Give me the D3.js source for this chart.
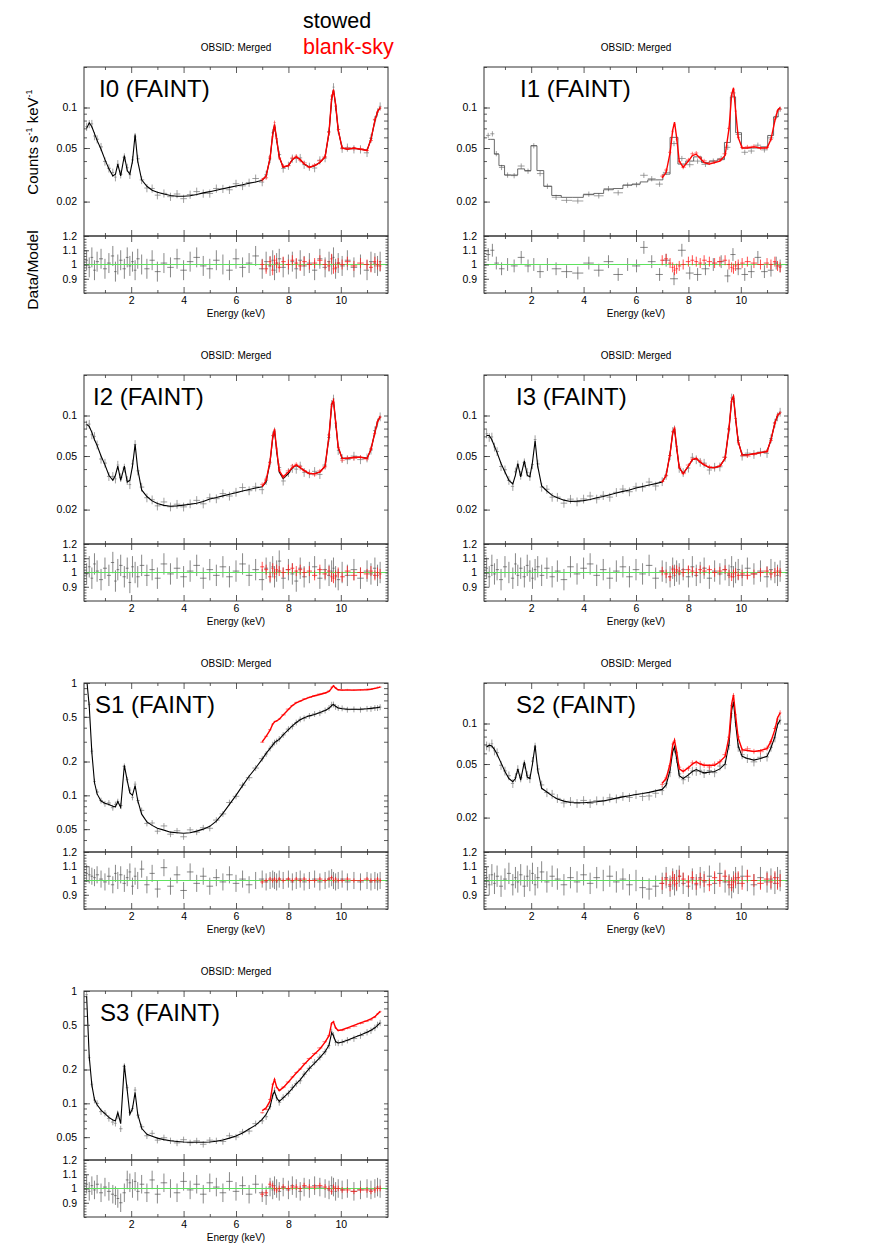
<!DOCTYPE html>
<html>
<head>
<meta charset="utf-8">
<script src="https://cdn.jsdelivr.net/npm/d3@7"></script>
<style>
  body { margin: 0; background: #fff; }
  text { font-family: "Liberation Sans", Arial, Helvetica, sans-serif; }
</style>
</head>
<body>
<svg width="872" height="1258"></svg>
<script>
// energy grid (keV) shared by the finely binned spectra
const energies = [
  0.30, 0.40, 0.50, 0.60, 0.70, 0.85, 1.00, 1.15, 1.30, 1.40,
  1.49, 1.60, 1.74, 1.85, 1.95, 2.05, 2.15, 2.25, 2.40, 2.60,
  2.80, 3.00, 3.25, 3.50, 3.75, 4.00, 4.25, 4.50, 4.75, 5.00,
  5.25, 5.50, 5.75, 6.00, 6.25, 6.50, 6.75, 7.00, 7.15, 7.30,
  7.40, 7.47, 7.55, 7.65, 7.80, 8.00, 8.15, 8.30, 8.45, 8.60,
  8.80, 9.00, 9.20, 9.40, 9.55, 9.65, 9.72, 9.80, 9.90, 10.05,
  10.25, 10.50, 10.75, 11.00, 11.15, 11.30, 11.40, 11.50
];
// blank-sky spectra only cover 7-11.5 keV
const redEnergies = [
  7.00, 7.15, 7.30, 7.40, 7.47, 7.55, 7.65, 7.80, 8.00, 8.15,
  8.30, 8.45, 8.60, 8.80, 9.00, 9.20, 9.40, 9.55, 9.65, 9.72,
  9.80, 9.90, 10.05, 10.25, 10.50, 10.75, 11.00, 11.15, 11.30, 11.40,
  11.50
];

// I0
const i0Model = [
  0.070, 0.077, 0.072, 0.064, 0.057, 0.049, 0.041, 0.035, 0.031, 0.032,
  0.038, 0.031, 0.044, 0.034, 0.032, 0.040, 0.063, 0.040, 0.029, 0.026,
  0.0243, 0.0235, 0.0228, 0.0222, 0.0219, 0.0219, 0.0221, 0.0226, 0.0232, 0.0237,
  0.0243, 0.0249, 0.0255, 0.0261, 0.0267, 0.0274, 0.0280, 0.0288, 0.031, 0.042,
  0.063, 0.074, 0.058, 0.043, 0.036, 0.037, 0.041, 0.043, 0.041, 0.038,
  0.036, 0.037, 0.039, 0.043, 0.065, 0.115, 0.135, 0.105, 0.068, 0.050,
  0.049, 0.050, 0.049, 0.048, 0.058, 0.080, 0.093, 0.100
];
const i0Ratio = [
  1.03, 0.98, 1.05, 0.96, 1.02, 1.04, 0.97, 1.01, 1.06, 0.95,
  1.00, 1.03, 0.97, 1.05, 0.99, 1.02, 0.96, 1.04, 1.00, 0.97,
  1.03, 0.95, 1.01, 0.98, 1.04, 0.96, 1.02, 1.05, 0.99, 0.97,
  1.03, 1.00, 0.96, 1.04, 0.98, 1.01, 1.06, 0.97, 1.02, 0.99,
  1.03, 0.96, 1.01, 1.04, 0.98, 1.00, 1.02, 0.97, 1.03, 0.99,
  1.01, 0.96, 1.04, 0.98, 1.02, 1.00, 1.05, 0.97, 1.01, 0.99,
  1.03, 0.98, 1.00, 0.96, 1.02, 1.01, 0.99, 1.02
];
const i0RedModel = [
  0.029, 0.031, 0.042, 0.063, 0.075, 0.058, 0.043, 0.036, 0.037, 0.041,
  0.043, 0.041, 0.038, 0.036, 0.037, 0.039, 0.043, 0.066, 0.117, 0.136,
  0.106, 0.068, 0.050, 0.049, 0.050, 0.049, 0.048, 0.058, 0.080, 0.093,
  0.100
];
const i0RedRatio = [
  1.00, 0.97, 1.02, 0.96, 1.03, 1.01, 0.98, 1.02, 1.00, 1.03,
  1.01, 0.99, 1.02, 1.00, 1.01, 1.03, 1.00, 0.99, 1.04, 0.97,
  0.98, 1.01, 1.00, 1.02, 0.99, 1.01, 1.00, 0.98, 1.02, 1.00,
  0.99
];

// I1 (stowed data coarsely binned)
const i1Energies = [
  0.36, 0.52, 0.67, 0.87, 1.10, 1.35, 1.62, 1.88, 2.10, 2.34,
  2.62, 2.95, 3.35, 3.78, 4.20, 4.58, 4.95, 5.32, 5.68, 6.02,
  6.30, 6.60, 6.90, 7.15, 7.45, 7.75, 8.05, 8.35, 8.65, 8.95,
  9.25, 9.50, 9.70, 9.90, 10.15, 10.40, 10.65, 10.90, 11.15, 11.35,
  11.50
];
const i1Model = [
  0.058, 0.058, 0.045, 0.037, 0.0315, 0.0315, 0.035, 0.034, 0.052, 0.034,
  0.026, 0.0222, 0.0215, 0.0215, 0.0225, 0.023, 0.0245, 0.025, 0.0265, 0.027,
  0.028, 0.029, 0.029, 0.032, 0.060, 0.038, 0.040, 0.043, 0.039, 0.040,
  0.041, 0.055, 0.120, 0.065, 0.050, 0.050, 0.050, 0.051, 0.062, 0.085,
  0.098
];
const i1Ratio = [
  1.07, 1.10, 1.01, 0.97, 1.00, 0.99, 1.05, 0.99, 1.00, 0.95,
  1.00, 0.97, 0.95, 0.94, 1.01, 0.96, 1.02, 0.93, 1.00, 0.99,
  1.12, 1.02, 0.93, 1.03, 0.90, 1.10, 0.94, 0.93, 0.97, 1.00,
  1.02, 0.92, 1.07, 0.97, 0.93, 0.95, 1.05, 0.95, 0.96, 1.01,
  0.99
];
const i1RedModel = [
  0.030, 0.033, 0.046, 0.068, 0.078, 0.060, 0.040, 0.036, 0.040, 0.044,
  0.045, 0.042, 0.039, 0.038, 0.039, 0.040, 0.044, 0.070, 0.125, 0.140,
  0.095, 0.060, 0.050, 0.050, 0.051, 0.050, 0.050, 0.058, 0.080, 0.095,
  0.100
];
const i1RedRatio = [
  1.03, 1.04, 1.01, 0.98, 0.96, 0.97, 0.99, 1.00, 1.02, 1.03,
  1.02, 1.01, 1.03, 1.02, 1.01, 1.02, 1.03, 1.00, 0.98, 0.97,
  0.99, 1.00, 1.01, 1.02, 1.01, 1.00, 1.01, 1.00, 1.02, 0.99,
  0.98
];

// I2
const i2Model = [
  0.086, 0.083, 0.075, 0.066, 0.060, 0.050, 0.043, 0.036, 0.033, 0.036,
  0.042, 0.033, 0.042, 0.032, 0.033, 0.042, 0.061, 0.040, 0.028, 0.025,
  0.0232, 0.0222, 0.0215, 0.0212, 0.0213, 0.0216, 0.0219, 0.0223, 0.0230, 0.0240,
  0.0246, 0.0253, 0.0260, 0.0267, 0.0275, 0.0282, 0.0289, 0.0296, 0.032, 0.045,
  0.068, 0.078, 0.055, 0.038, 0.034, 0.037, 0.041, 0.0425, 0.041, 0.039,
  0.037, 0.037, 0.038, 0.042, 0.070, 0.120, 0.129, 0.090, 0.058, 0.048,
  0.048, 0.049, 0.049, 0.048, 0.056, 0.075, 0.090, 0.098
];
const i2Ratio = [
  0.99, 1.04, 0.96, 1.06, 1.01, 0.95, 1.03, 0.98, 1.07, 0.94,
  1.02, 1.05, 0.97, 1.03, 0.93, 1.04, 1.00, 0.97, 1.05, 0.98,
  1.02, 0.96, 1.06, 0.99, 1.03, 0.97, 1.01, 1.05, 0.96, 1.02,
  0.98, 1.04, 0.97, 1.01, 1.06, 0.98, 1.02, 0.95, 1.03, 1.00,
  1.04, 0.97, 1.01, 1.08, 0.96, 1.02, 0.99, 0.94, 1.03, 0.97,
  1.00, 1.04, 0.96, 1.02, 0.98, 1.01, 1.03, 0.97, 0.95, 1.00,
  0.98, 1.02, 0.96, 1.01, 0.99, 1.03, 0.98, 1.00
];
const i2RedModel = [
  0.0296, 0.033, 0.046, 0.069, 0.079, 0.056, 0.039, 0.035, 0.038, 0.041,
  0.043, 0.041, 0.039, 0.037, 0.037, 0.038, 0.042, 0.071, 0.121, 0.130,
  0.091, 0.058, 0.048, 0.048, 0.049, 0.049, 0.048, 0.056, 0.075, 0.090,
  0.098
];
const i2RedRatio = [
  1.04, 1.02, 0.97, 1.03, 0.99, 1.02, 1.01, 1.00, 1.02, 1.03,
  1.01, 1.02, 1.00, 1.01, 0.98, 1.02, 0.99, 1.01, 0.97, 0.96,
  0.98, 1.00, 0.97, 1.01, 0.98, 1.00, 0.99, 1.01, 0.98, 1.00,
  0.99
];

// I3
const i3Model = [
  0.071, 0.071, 0.066, 0.059, 0.053, 0.044, 0.038, 0.033, 0.031, 0.036,
  0.044, 0.035, 0.046, 0.036, 0.035, 0.045, 0.065, 0.042, 0.030, 0.0275,
  0.0255, 0.0245, 0.0235, 0.0230, 0.0231, 0.0233, 0.0238, 0.0245, 0.0250, 0.0258,
  0.0266, 0.0273, 0.0280, 0.0289, 0.0297, 0.0305, 0.0312, 0.032, 0.036, 0.052,
  0.074, 0.080, 0.058, 0.041, 0.037, 0.042, 0.047, 0.048, 0.045, 0.043,
  0.041, 0.041, 0.042, 0.048, 0.080, 0.130, 0.138, 0.095, 0.064, 0.051,
  0.051, 0.052, 0.053, 0.054, 0.066, 0.088, 0.100, 0.105
];
const i3Ratio = [
  1.03, 0.97, 1.05, 0.99, 1.02, 0.95, 1.04, 1.00, 0.96, 1.06,
  0.98, 1.03, 0.97, 1.05, 1.01, 0.96, 1.02, 1.04, 0.98, 1.03,
  0.97, 1.01, 0.95, 1.04, 0.99, 1.03, 1.06, 0.98, 1.02, 0.96,
  1.01, 1.04, 0.97, 1.02, 0.99, 1.05, 0.96, 1.01, 1.00, 0.97,
  1.03, 0.98, 1.01, 0.99, 1.02, 0.97, 1.04, 0.98, 1.00, 1.03,
  0.96, 1.01, 0.99, 1.02, 0.98, 1.04, 0.97, 1.00, 1.02, 0.98,
  1.03, 0.99, 1.01, 0.97, 1.02, 1.00, 0.98, 1.01
];
const i3RedModel = [
  0.032, 0.036, 0.052, 0.074, 0.081, 0.058, 0.041, 0.037, 0.042, 0.047,
  0.048, 0.045, 0.043, 0.041, 0.041, 0.042, 0.048, 0.081, 0.131, 0.139,
  0.095, 0.064, 0.051, 0.051, 0.052, 0.053, 0.054, 0.066, 0.088, 0.100,
  0.105
];
const i3RedRatio = [
  1.01, 0.99, 0.97, 1.02, 1.00, 1.02, 1.01, 1.00, 1.02, 1.01,
  1.00, 1.02, 1.01, 1.02, 1.00, 1.01, 1.02, 0.99, 0.97, 0.99,
  1.00, 0.98, 0.99, 0.98, 0.99, 1.00, 1.01, 0.99, 1.00, 1.01,
  1.00
];

// S1
const s1Model = [
  1.10, 0.62, 0.24, 0.13, 0.103, 0.089, 0.085, 0.083, 0.080, 0.079,
  0.088, 0.078, 0.185, 0.135, 0.105, 0.100, 0.122, 0.090, 0.068, 0.058,
  0.054, 0.051, 0.049, 0.047, 0.0465, 0.046, 0.0465, 0.048, 0.050, 0.053,
  0.059, 0.069, 0.083, 0.100, 0.122, 0.148, 0.175, 0.210, 0.236, 0.262,
  0.280, 0.295, 0.305, 0.315, 0.345, 0.385, 0.415, 0.445, 0.470, 0.490,
  0.510, 0.525, 0.545, 0.570, 0.595, 0.630, 0.645, 0.620, 0.600, 0.590,
  0.585, 0.583, 0.585, 0.590, 0.595, 0.600, 0.605, 0.610
];
const s1Ratio = [
  1.05, 1.04, 1.03, 1.02, 1.04, 1.01, 0.99, 1.03, 0.97, 1.05,
  1.00, 1.04, 0.98, 1.02, 1.06, 0.96, 1.03, 1.00, 1.08, 0.97,
  1.05, 0.94, 1.09, 0.96, 1.04, 0.93, 1.06, 0.98, 1.03, 0.96,
  1.02, 0.99, 1.04, 0.98, 1.01, 0.97, 1.00, 1.01, 0.99, 1.00,
  1.01, 1.00, 0.99, 1.01, 1.00, 1.01, 0.99, 1.00, 1.01, 0.99,
  1.00, 1.01, 0.99, 1.00, 1.01, 1.02, 1.00, 0.99, 1.00, 1.01,
  0.99, 1.00, 0.99, 1.00, 0.99, 1.00, 0.99, 1.00
];
const s1RedModel = [
  0.300, 0.335, 0.380, 0.430, 0.450, 0.460, 0.475, 0.520, 0.580, 0.630,
  0.665, 0.690, 0.715, 0.745, 0.770, 0.790, 0.815, 0.840, 0.900, 0.945,
  0.900, 0.870, 0.865, 0.865, 0.865, 0.868, 0.870, 0.880, 0.895, 0.905,
  0.920
];
const s1RedRatio = [
  0.99, 1.00, 1.01, 1.00, 1.01, 1.00, 1.01, 1.00, 1.01, 1.00,
  1.01, 1.00, 1.01, 1.00, 1.00, 1.01, 1.00, 1.01, 1.02, 1.00,
  1.01, 1.00, 1.00, 1.01, 1.00, 1.00, 1.01, 1.00, 1.00, 1.01,
  1.00
];

// S2
const s2Model = [
  0.067, 0.069, 0.068, 0.064, 0.059, 0.051, 0.044, 0.039, 0.037, 0.039,
  0.046, 0.038, 0.052, 0.040, 0.039, 0.050, 0.069, 0.045, 0.033, 0.031,
  0.029, 0.0275, 0.0265, 0.0259, 0.0258, 0.0258, 0.0260, 0.0262, 0.0266, 0.0272,
  0.0279, 0.0285, 0.0291, 0.0297, 0.0302, 0.0308, 0.0316, 0.0324, 0.035, 0.045,
  0.062, 0.067, 0.055, 0.041, 0.039, 0.0415, 0.044, 0.0455, 0.044, 0.043,
  0.0435, 0.044, 0.046, 0.050, 0.071, 0.125, 0.145, 0.100, 0.068, 0.057,
  0.055, 0.0535, 0.055, 0.057, 0.066, 0.080, 0.098, 0.106
];
const s2Ratio = [
  1.02, 0.97, 1.04, 0.98, 1.03, 0.96, 1.01, 1.05, 0.97, 1.02,
  0.99, 1.04, 0.96, 1.03, 1.00, 1.05, 0.97, 1.02, 1.06, 0.99,
  1.03, 1.01, 0.97, 1.02, 0.99, 1.04, 0.98, 1.02, 1.00, 1.03,
  0.99, 1.01, 0.97, 1.00, 0.95, 0.94, 0.96, 0.98, 1.02, 0.96,
  1.01, 0.97, 1.00, 1.03, 0.98, 0.96, 1.01, 0.97, 1.02, 0.99,
  1.03, 0.98, 1.05, 0.99, 0.97, 0.95, 0.99, 1.02, 0.98, 1.03,
  1.00, 0.97, 1.02, 0.99, 1.01, 0.98, 1.02, 1.00
];
const s2RedModel = [
  0.036, 0.039, 0.050, 0.069, 0.075, 0.062, 0.046, 0.044, 0.047, 0.050,
  0.052, 0.050, 0.049, 0.049, 0.049, 0.052, 0.057, 0.080, 0.140, 0.163,
  0.115, 0.078, 0.064, 0.063, 0.062, 0.063, 0.065, 0.074, 0.090, 0.110,
  0.120
];
const s2RedRatio = [
  0.98, 1.01, 0.97, 1.02, 1.00, 0.98, 1.03, 1.01, 0.99, 1.02,
  0.98, 1.01, 1.00, 0.97, 1.02, 1.00, 1.03, 0.99, 0.97, 0.99,
  1.01, 1.02, 0.98, 1.03, 1.00, 0.98, 1.01, 0.99, 1.02, 0.98,
  1.00
];

// S3
const s3Model = [
  0.90, 0.26, 0.145, 0.108, 0.097, 0.087, 0.081, 0.075, 0.071, 0.070,
  0.083, 0.066, 0.220, 0.130, 0.080, 0.090, 0.125, 0.080, 0.060, 0.053,
  0.051, 0.049, 0.0475, 0.0465, 0.0458, 0.0452, 0.0450, 0.0450, 0.0450, 0.0452,
  0.0460, 0.0472, 0.0490, 0.0512, 0.0545, 0.059, 0.064, 0.072, 0.080, 0.093,
  0.118, 0.128, 0.112, 0.104, 0.112, 0.124, 0.136, 0.150, 0.162, 0.180,
  0.205, 0.228, 0.255, 0.288, 0.330, 0.425, 0.400, 0.355, 0.345, 0.352,
  0.365, 0.385, 0.405, 0.430, 0.448, 0.470, 0.495, 0.520
];
const s3Ratio = [
  1.03, 0.98, 1.02, 0.99, 1.03, 0.97, 1.01, 0.98, 0.96, 0.95,
  0.93, 0.90, 0.97, 1.06, 1.04, 1.00, 1.05, 0.98, 1.03, 0.97,
  1.06, 0.96, 1.04, 1.00, 0.97, 1.05, 0.99, 1.03, 0.96, 1.04,
  1.01, 0.97, 1.05, 0.98, 1.02, 0.96, 1.03, 0.97, 0.95, 1.01,
  0.99, 1.02, 1.00, 0.98, 1.01, 0.99, 1.02, 1.00, 0.98, 1.01,
  1.00, 1.02, 1.01, 1.00, 0.99, 1.02, 1.01, 0.98, 1.00, 0.99,
  1.00, 0.98, 0.99, 1.00, 0.99, 1.00, 1.01, 1.00
];
const s3RedModel = [
  0.086, 0.091, 0.105, 0.145, 0.163, 0.140, 0.130, 0.138, 0.155, 0.170,
  0.186, 0.202, 0.222, 0.248, 0.275, 0.305, 0.350, 0.400, 0.520, 0.530,
  0.470, 0.445, 0.452, 0.470, 0.495, 0.520, 0.545, 0.565, 0.590, 0.625,
  0.655
];
const s3RedRatio = [
  0.96, 0.97, 1.03, 1.02, 1.00, 0.99, 1.00, 1.01, 1.00, 1.01,
  1.01, 1.00, 1.02, 1.01, 1.01, 1.02, 1.01, 1.00, 0.98, 1.01,
  1.00, 1.00, 0.99, 0.99, 0.98, 0.99, 0.99, 0.98, 0.99, 1.00,
  1.00
];

// tick labels
const xTickLabels = [2, 4, 6, 8, 10];
const xMinorTicks = [1, 3, 5, 7, 9, 11];
const faintTickLabels = [0.02, 0.05, 0.1];
const brightTickLabels = [0.05, 0.1, 0.2, 0.5, 1];
const ratioTickLabels = [0.9, 1, 1.1, 1.2];
const legendLabels = ["stowed", "blank-sky"];

// ---------------------------------------------------------------
const svg = d3.select("svg");
const plotW = 304, mainH = 169, ratioH = 57;
const colX = [84, 484];
const rowY = [67, 375, 683, 991];
const faintDomain = [0.0111, 0.2];
const brightDomain = [0.0313, 1];

const panels = [
	{ id: "i0", label: "I0 (FAINT)", col: 0, row: 0, labelX: 15, dom: faintDomain, yLabels: faintTickLabels,
	  black: { e: energies, m: i0Model, r: i0Ratio, err: 0.07 },
	  red: { e: redEnergies, m: i0RedModel, r: i0RedRatio, err: 0.035 } },
	{ id: "i1", label: "I1 (FAINT)", col: 1, row: 0, labelX: 36, dom: faintDomain, yLabels: faintTickLabels,
	  black: { e: i1Energies, m: i1Model, r: i1Ratio, err: 0.045, step: true },
	  red: { e: redEnergies, m: i1RedModel, r: i1RedRatio, err: 0.035 } },
	{ id: "i2", label: "I2 (FAINT)", col: 0, row: 1, labelX: 9, dom: faintDomain, yLabels: faintTickLabels,
	  black: { e: energies, m: i2Model, r: i2Ratio, err: 0.075 },
	  red: { e: redEnergies, m: i2RedModel, r: i2RedRatio, err: 0.035 } },
	{ id: "i3", label: "I3 (FAINT)", col: 1, row: 1, labelX: 32, dom: faintDomain, yLabels: faintTickLabels,
	  black: { e: energies, m: i3Model, r: i3Ratio, err: 0.075 },
	  red: { e: redEnergies, m: i3RedModel, r: i3RedRatio, err: 0.03 } },
	{ id: "s1", label: "S1 (FAINT)", col: 0, row: 2, labelX: 11, dom: brightDomain, yLabels: brightTickLabels,
	  black: { e: energies, m: s1Model, r: s1Ratio, err: 0.06 },
	  red: { e: redEnergies, m: s1RedModel, r: s1RedRatio, err: 0.015 } },
	{ id: "s2", label: "S2 (FAINT)", col: 1, row: 2, labelX: 32, dom: faintDomain, yLabels: faintTickLabels,
	  black: { e: energies, m: s2Model, r: s2Ratio, err: 0.075 },
	  red: { e: redEnergies, m: s2RedModel, r: s2RedRatio, err: 0.045 } },
	{ id: "s3", label: "S3 (FAINT)", col: 0, row: 3, labelX: 16, dom: brightDomain, yLabels: brightTickLabels,
	  black: { e: energies, m: s3Model, r: s3Ratio, err: 0.065 },
	  red: { e: redEnergies, m: s3RedModel, r: s3RedRatio, err: 0.02 } },
];

const x = d3.scaleLinear().domain([0.2, 11.8]).range([0, plotW]);
const yr = d3.scaleLinear().domain([0.8, 1.2]).range([ratioH, 0]);

// log minor ticks 2..9 x decade, inside the domain
function logTicks(dom) {
	const out = [];
	[0.01, 0.1, 1].forEach(dec => {
		for (let k = 1; k <= 9; k++) {
			const v = +(k * dec).toPrecision(3);
			if (v >= dom[0] && v <= dom[1]) out.push(v);
		}
	});
	return out;
}

function toPoints(s) {
	const es = s.e;
	return es.map((e, i) => {
		const lo = i > 0 ? (es[i - 1] + e) / 2 : e - (es[1] - es[0]) / 2;
		const hi = i < es.length - 1 ? (e + es[i + 1]) / 2 : e + (e - es[i - 1]) / 2;
		return { e, lo, hi, m: s.m[i], r: s.r[i] };
	}).filter(d => d.m != null && d.r != null);
}

function crossPath(xs, ys, v, err) {
	return d => {
		const val = v(d);
		return `M${xs(d.lo)},${ys(val)}H${xs(d.hi)}` +
			`M${xs(d.e)},${ys(val * (1 - err))}V${ys(val * (1 + err))}`;
	};
}

function ratioCross(d, err) {
	return `M${x(d.lo)},${yr(d.r)}H${x(d.hi)}` +
		`M${x(d.e)},${yr(d.r - err)}V${yr(d.r + err)}`;
}

function tickAxis(g, axis) {
	g.call(axis);
	g.select(".domain").remove();
	g.selectAll(".tick line").attr("stroke", "#333").attr("stroke-width", 0.8);
	g.selectAll(".tick text").attr("font-size", 10.5).attr("fill", "#000")
		.style("font-family", "'Liberation Sans', Arial, sans-serif");
}

panels.forEach(p => {
	const x0 = colX[p.col], y0 = rowY[p.row];
	const g = svg.append("g").attr("transform", `translate(${x0},${y0})`);
	const y = d3.scaleLog().domain(p.dom).range([mainH, 0]);

	// clip regions
	const defs = g.append("defs");
	defs.append("clipPath").attr("id", `clip-${p.id}`)
		.append("rect").attr("width", plotW).attr("height", mainH);
	defs.append("clipPath").attr("id", `clipr-${p.id}`)
		.append("rect").attr("width", plotW).attr("height", ratioH);

	g.append("text")
		.attr("x", plotW / 2).attr("y", -16)
		.attr("text-anchor", "middle").attr("font-size", 10)
		.text("OBSID: Merged");

	const blackPts = toPoints(p.black);
	const redPts = toPoints(p.red);

	// main spectrum panel
	const main = g.append("g").attr("clip-path", `url(#clip-${p.id})`);
	main.append("g").selectAll("path").data(blackPts).join("path")
		.attr("d", crossPath(x, y, d => d.m * d.r, p.black.err))
		.attr("fill", "none").attr("stroke", "#777").attr("stroke-width", 0.7);
	main.append("path").datum(blackPts)
		.attr("d", d3.line().x(d => x(d.e)).y(d => y(d.m))
			.curve(p.black.step ? d3.curveStep : d3.curveLinear))
		.attr("fill", "none")
		.attr("stroke", p.black.step ? "#444" : "#000")
		.attr("stroke-width", p.black.step ? 0.8 : 1.1);
	main.append("g").selectAll("path").data(redPts).join("path")
		.attr("d", crossPath(x, y, d => d.m * d.r, p.red.err))
		.attr("fill", "none").attr("stroke", "#ff4040").attr("stroke-width", 0.7);
	main.append("path").datum(redPts)
		.attr("d", d3.line().x(d => x(d.e)).y(d => y(d.m)))
		.attr("fill", "none").attr("stroke", "#ff0000").attr("stroke-width", 1.4);

	g.append("text")
		.attr("x", p.labelX).attr("y", 29.5)
		.attr("font-size", 24)
		.text(p.label);

	// ratio panel
	const rg = g.append("g").attr("transform", `translate(0,${mainH})`);
	const rc = rg.append("g").attr("clip-path", `url(#clipr-${p.id})`);
	rc.append("g").selectAll("path").data(blackPts).join("path")
		.attr("d", d => ratioCross(d, p.black.err))
		.attr("fill", "none").attr("stroke", "#555").attr("stroke-width", 0.7);
	rc.append("line")
		.attr("x1", 0).attr("x2", plotW).attr("y1", yr(1)).attr("y2", yr(1))
		.attr("stroke", "#5fe35f").attr("stroke-width", 1.2);
	rc.append("g").selectAll("path").data(redPts).join("path")
		.attr("d", d => ratioCross(d, p.red.err))
		.attr("fill", "none").attr("stroke", "#ff2020").attr("stroke-width", 0.8);

	// axes: ticks point inward on every side
	const yMinor = logTicks(p.dom);
	tickAxis(g.append("g"), d3.axisLeft(y).tickValues(p.yLabels).tickSize(-6).tickPadding(7).tickFormat(d => d));
	tickAxis(g.append("g"), d3.axisLeft(y).tickValues(yMinor).tickSize(-3).tickFormat(""));
	tickAxis(g.append("g").attr("transform", `translate(${plotW},0)`),
		d3.axisRight(y).tickValues(yMinor).tickSize(-4).tickFormat(""));

	tickAxis(rg.append("g"), d3.axisLeft(yr).tickValues(ratioTickLabels).tickSize(-5).tickPadding(7).tickFormat(d => d));
	tickAxis(rg.append("g"), d3.axisLeft(yr).ticks(20).tickSize(-2.5).tickFormat(""));
	tickAxis(rg.append("g").attr("transform", `translate(${plotW},0)`),
		d3.axisRight(yr).ticks(20).tickSize(-2.5).tickFormat(""));

	[[g, 0, d3.axisTop], [g, mainH, d3.axisBottom], [rg, 0, d3.axisTop]].forEach(([parent, ty, ax]) => {
		tickAxis(parent.append("g").attr("transform", `translate(0,${ty})`),
			ax(x).tickValues(xTickLabels).tickSize(-6).tickFormat(""));
		tickAxis(parent.append("g").attr("transform", `translate(0,${ty})`),
			ax(x).tickValues(xMinorTicks).tickSize(-3).tickFormat(""));
	});
	tickAxis(rg.append("g").attr("transform", `translate(0,${ratioH})`),
		d3.axisBottom(x).tickValues(xTickLabels).tickSize(-6).tickPadding(4).tickFormat(d => d));
	tickAxis(rg.append("g").attr("transform", `translate(0,${ratioH})`),
		d3.axisBottom(x).tickValues(xMinorTicks).tickSize(-3).tickFormat(""));

	// frames
	g.append("rect").attr("width", plotW).attr("height", mainH)
		.attr("fill", "none").attr("stroke", "#333").attr("stroke-width", 1);
	rg.append("rect").attr("width", plotW).attr("height", ratioH)
		.attr("fill", "none").attr("stroke", "#333").attr("stroke-width", 1);

	rg.append("text")
		.attr("x", plotW / 2).attr("y", ratioH + 24)
		.attr("text-anchor", "middle").attr("font-size", 10)
		.text("Energy (keV)");
});

// y-axis titles (first panel only)
const yTitle = svg.append("text")
	.attr("transform", `translate(38,142) rotate(-90)`)
	.attr("text-anchor", "middle").attr("font-size", 15);
yTitle.append("tspan").text("Counts s");
yTitle.append("tspan").attr("font-size", 9).attr("dy", -6).text("-1");
yTitle.append("tspan").attr("dy", 6).text(" keV");
yTitle.append("tspan").attr("font-size", 9).attr("dy", -6).text("-1");

svg.append("text")
	.attr("transform", `translate(38,270) rotate(-90)`)
	.attr("text-anchor", "middle").attr("font-size", 15.5)
	.text("Data/Model");

// legend
svg.selectAll("text.legend").data(legendLabels).join("text")
	.attr("class", "legend")
	.attr("x", 303).attr("y", (d, i) => 28 + i * 26)
	.attr("font-size", 21.5)
	.attr("fill", (d, i) => i === 0 ? "#000" : "#ff0000")
	.text(d => d);
</script>
</body>
</html>
